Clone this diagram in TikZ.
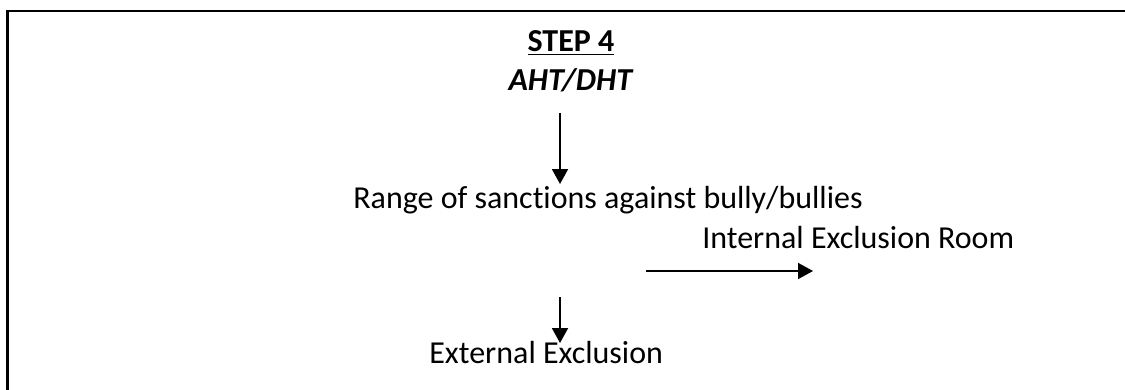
\documentclass[tikz,border=0pt]{standalone}
\usepackage{fontspec}
\setmainfont{Carlito}[Ligatures=NoCommon]
\usepackage{tikz}
\usetikzlibrary{arrows.meta, positioning, calc}

\begin{document}
\begin{tikzpicture}[
    lbl/.style={inner sep=0pt, font=\fontsize{18.2}{22}\selectfont},
    arr/.style={-{Triangle[width=0.32cm, length=0.3cm]}, line width=1.1pt}
  ]
            \useasboundingbox (0,0) rectangle (22.5,-7.8);
            % frame: top and left side only
            \draw[line width=1.5pt] (22.5,-0.22) -- (0.15,-0.22) -- (0.15,-7.8);

            \node[lbl, anchor=base] (step) at (11.42,-1.04) {\textbf{\underline{STEP 4}}};
            \node[lbl, anchor=base] (aht) at (11.42,-1.82) {\textbf{\textit{AHT/DHT}}};
            \node[lbl, anchor=base west] (range) at (7.06,-4.16) {Range of sanctions against bully/bullies};
            \node[lbl, anchor=base west] (internal) at (14.04,-4.96) {Internal Exclusion Room};
            \node[lbl, anchor=base west] (external) at (8.58,-7.26) {External Exclusion};

            \draw[arr] ([xshift=-0.22cm, yshift=-0.44cm]aht.base) -- ([xshift=-0.22cm, yshift=0.48cm]aht.base |- range.base);
            \draw[arr] ([xshift=-1.12cm, yshift=-0.46cm]internal.base west) -- ([xshift=2.22cm, yshift=-0.46cm]internal.base west);
            \draw[arr] ([yshift=-1.78cm]range.base -| aht.base) ++(-0.22,0) coordinate (e0) -- ([xshift=-0.22cm, yshift=0.4cm]aht.base |- external.base);
\end{tikzpicture}
\end{document}
